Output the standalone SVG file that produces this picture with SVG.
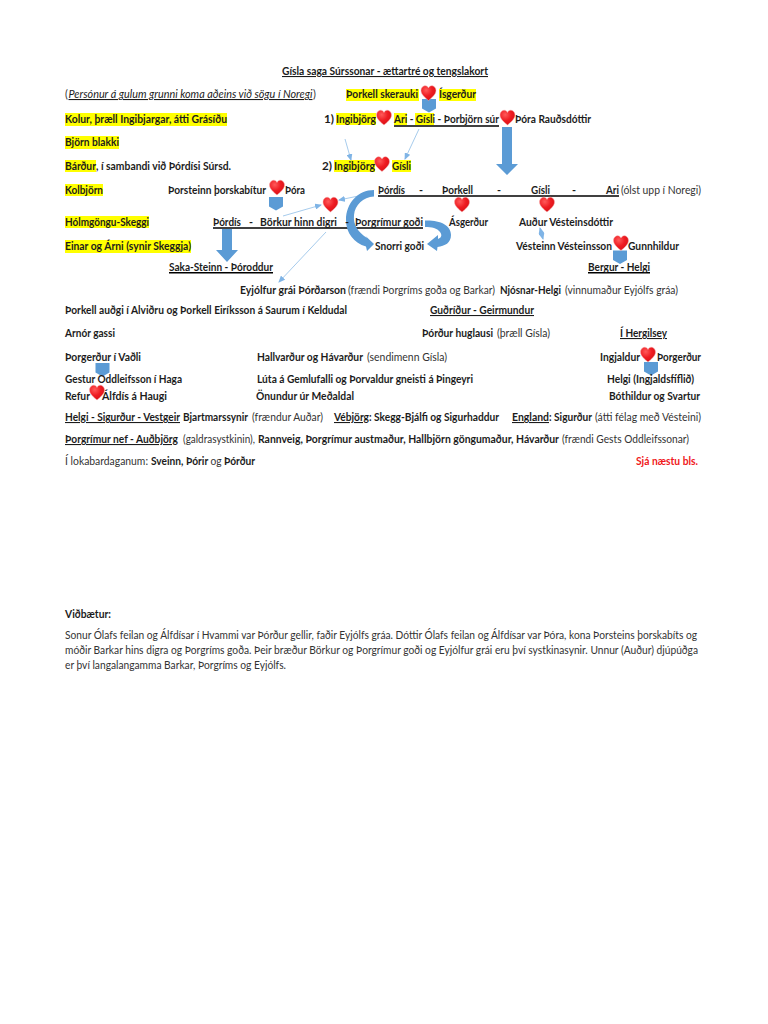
<svg xmlns="http://www.w3.org/2000/svg" xmlns:xlink="http://www.w3.org/1999/xlink" width="768" height="1024" viewBox="0 0 768 1024">
<style>
text{font-family:"Lato","Liberation Sans",sans-serif;font-size:10.8px;fill:#1c1c1c;white-space:pre}
.b{font-weight:700}
.r{font-weight:400;fill:#333}
.i{font-style:italic;font-weight:400;text-decoration:underline}
.u{text-decoration:underline}
.red{fill:#f01820;font-weight:700}
.y{fill:#ffff00}
.bar{stroke:#000;stroke-width:1.6;fill:none}
.thin{stroke:#9cc5ea;stroke-width:.9;fill:none;marker-end:url(#a)}
.blk{fill:#5b9bd5}
</style>
<defs>
<marker id="a" markerWidth="7" markerHeight="6" refX="6" refY="3" orient="auto" markerUnits="userSpaceOnUse"><path d="M0,0L7,3L0,6z" fill="#7fb4e6"/></marker>
<marker id="as" markerWidth="7" markerHeight="6" refX="1" refY="3" orient="auto" markerUnits="userSpaceOnUse"><path d="M7,0L0,3L7,6z" fill="#7fb4e6"/></marker>
<radialGradient id="hg" cx=".35" cy=".3" r=".8"><stop offset="0" stop-color="#ff5a5a"/><stop offset=".5" stop-color="#ee1c22"/><stop offset="1" stop-color="#d40f14"/></radialGradient>
<path id="h" d="M0,7.5C-3,5 -7.5,1.5 -7.5,-2.5C-7.5,-5.5 -5.2,-7.3 -3.2,-7.3C-1.6,-7.3 -.5,-6.3 0,-5C.5,-6.3 1.6,-7.3 3.2,-7.3C5.2,-7.3 7.5,-5.5 7.5,-2.5C7.5,1.5 3,5 0,7.5z" fill="url(#hg)" stroke="#f7b0b0" stroke-width=".5"/>
<path id="p" d="M-7,-6.5H7V3L0,7L-7,3z" class="blk"/>
</defs>
<rect width="768" height="1024" fill="#fff"/>

<g id="highlights">
<rect class="y" x="346" y="89" width="73" height="12"/><rect class="y" x="439" y="89" width="37" height="12"/>
<rect class="y" x="65" y="113" width="162" height="13"/>
<rect class="y" x="336" y="113" width="40" height="12"/><rect class="y" x="394" y="113" width="13" height="12"/><rect class="y" x="415" y="113" width="19" height="12"/>
<rect class="y" x="65" y="136" width="54" height="13"/>
<rect class="y" x="65" y="160" width="31" height="12"/>
<rect class="y" x="334" y="160" width="41" height="12"/><rect class="y" x="392" y="160" width="19" height="12"/>
<rect class="y" x="65" y="184" width="38" height="12"/>
<rect class="y" x="65" y="216" width="84" height="12"/>
<rect class="y" x="65" y="240" width="126" height="13"/>
</g>

<g id="connectors">
<line class="bar" x1="394" y1="126" x2="499" y2="126"/>
<line class="bar" x1="378" y1="196" x2="619" y2="196"/>
<line class="bar" x1="213" y1="228" x2="423" y2="228"/>
<line class="bar" x1="169" y1="272.700" x2="273" y2="272.700"/>
<line class="bar" x1="588" y1="272.700" x2="650" y2="272.700"/>
<line class="thin" x1="345" y1="139" x2="351" y2="160"/>
<line class="thin" x1="419" y1="129" x2="405" y2="159"/>
<line class="thin" x1="283" y1="216" x2="321" y2="205"/>
<line class="thin" x1="373" y1="193" x2="339" y2="200"/>
<line class="thin" x1="326" y1="232" x2="279" y2="282"/>
<line class="thin" x1="540" y1="228" x2="543" y2="239" marker-start="url(#as)"/>
<path class="blk" d="M502,127H512V164H518L507,175L496,164H502z"/>
<path class="blk" d="M222,229H232V250H238L227,262L216,250H222z"/>
<path class="blk" d="M374,190V196.500C363,197 355,205 354,215C353,225 358,232 367,238L365.500,236L374,244L367,251L366,246.500C354,243 346,233 346,220C346,203 358,190 374,190z"/>
<path class="blk" d="M425,220.500C440,220 451,225 451,235C451,243 445,246 437.500,247L437,251L427,244L438,235L438,239C442,237.500 442,234.500 440,232C437,228 432,227 425,227z"/>
<use xlink:href="#p" href="#p" x="429" y="105.500"/>
<use xlink:href="#p" href="#p" x="276" y="203.500"/>
<use xlink:href="#p" href="#p" x="620" y="257"/>
<use xlink:href="#p" href="#p" x="102.500" y="369.500"/>
<use xlink:href="#p" href="#p" x="651" y="368.500"/>
</g>

<g id="hearts">
<use href="#h" x="428.500" y="93"/><use href="#h" x="384" y="117.500"/><use href="#h" x="507.500" y="117.500"/>
<use href="#h" x="382" y="164"/><use href="#h" x="277" y="187.500"/><use href="#h" x="330.500" y="204.500"/>
<use href="#h" x="462" y="204.500"/><use href="#h" x="547" y="204.500"/><use href="#h" x="621" y="243"/>
<use href="#h" x="648" y="354.500"/><use href="#h" x="97" y="392.500"/>
</g>

<g id="title"><text class="b u" x="282" y="75" textLength="206" lengthAdjust="spacingAndGlyphs">Gísla saga Súrssonar - ættartré og tengslakort</text></g>
<g id="row-top">
<text class="r" x="65" y="98">(</text><text class="i" x="68.500" y="98" textLength="244" lengthAdjust="spacingAndGlyphs">Persónur á gulum grunni koma aðeins við sögu í Noregi</text><text class="r" x="313" y="98">)</text>
<text class="b" x="346" y="98" textLength="72" lengthAdjust="spacingAndGlyphs">Þorkell skerauki</text>
<text class="b" x="439" y="98" textLength="37" lengthAdjust="spacingAndGlyphs">Ísgerður</text>
</g>
<g id="row-1">
<text class="b" x="65" y="123" textLength="162" lengthAdjust="spacingAndGlyphs">Kolur, þræll Ingibjargar, átti Grásíðu</text>
<text class="b" x="324" y="123" textLength="10" lengthAdjust="spacingAndGlyphs">1)</text>
<text class="b" x="336" y="123" textLength="40" lengthAdjust="spacingAndGlyphs">Ingibjörg</text>
<text class="b" x="394" y="123" textLength="105" lengthAdjust="spacingAndGlyphs">Ari - Gísli - Þorbjörn súr</text>
<text class="b" x="515" y="123" textLength="76" lengthAdjust="spacingAndGlyphs">Þóra Rauðsdóttir</text>
</g>
<g id="row-2"><text class="b" x="65" y="146" textLength="54" lengthAdjust="spacingAndGlyphs">Björn blakki</text></g>
<g id="row-3">
<text class="b" x="65" y="169.500" textLength="31" lengthAdjust="spacingAndGlyphs">Bárður</text>
<text class="b" x="96" y="169.500" textLength="135" lengthAdjust="spacingAndGlyphs">, í sambandi við Þórdísi Súrsd.</text>
<text class="b" x="322" y="169.500" textLength="10" lengthAdjust="spacingAndGlyphs">2)</text>
<text class="b" x="334" y="169.500" textLength="41" lengthAdjust="spacingAndGlyphs">Ingibjörg</text>
<text class="b" x="392" y="169.500" textLength="19" lengthAdjust="spacingAndGlyphs">Gísli</text>
</g>
<g id="row-4">
<text class="b" x="65" y="193.500" textLength="38" lengthAdjust="spacingAndGlyphs">Kolbjörn</text>
<text class="b" x="168" y="193.500" textLength="98" lengthAdjust="spacingAndGlyphs">Þorsteinn þorskabítur</text>
<text class="b" x="285" y="193.500" textLength="20" lengthAdjust="spacingAndGlyphs">Þóra</text>
<text class="b" x="378" y="193.500" textLength="27" lengthAdjust="spacingAndGlyphs">Þórdís</text>
<text class="b" x="419" y="193.500">-</text>
<text class="b" x="442" y="193.500" textLength="31" lengthAdjust="spacingAndGlyphs">Þorkell</text>
<text class="b" x="497" y="193.500">-</text>
<text class="b" x="531" y="193.500" textLength="19" lengthAdjust="spacingAndGlyphs">Gísli</text>
<text class="b" x="572" y="193.500">-</text>
<text class="b" x="606" y="193.500" textLength="13" lengthAdjust="spacingAndGlyphs">Ari</text>
<text class="r" x="621" y="193.500" textLength="80" lengthAdjust="spacingAndGlyphs">(ólst upp í Noregi)</text>
</g>
<g id="row-5">
<text class="b" x="65" y="226" textLength="84" lengthAdjust="spacingAndGlyphs">Hólmgöngu-Skeggi</text>
<text class="b" x="213" y="226" textLength="28" lengthAdjust="spacingAndGlyphs">Þórdís</text>
<text class="b" x="249" y="226">-</text>
<text class="b" x="260" y="226" textLength="77" lengthAdjust="spacingAndGlyphs">Börkur hinn digri</text>
<text class="b" x="345" y="226">-</text>
<text class="b" x="355" y="226" textLength="68" lengthAdjust="spacingAndGlyphs">Þorgrímur goði</text>
<text class="b" x="449" y="226" textLength="39" lengthAdjust="spacingAndGlyphs">Ásgerður</text>
<text class="b" x="519" y="226" textLength="94" lengthAdjust="spacingAndGlyphs">Auður Vésteinsdóttir</text>
</g>
<g id="row-6">
<text class="b" x="65" y="250" textLength="126" lengthAdjust="spacingAndGlyphs">Einar og Árni (synir Skeggja)</text>
<text class="b" x="375" y="250" textLength="49" lengthAdjust="spacingAndGlyphs">Snorri goði</text>
<text class="b" x="516" y="250" textLength="96" lengthAdjust="spacingAndGlyphs">Vésteinn Vésteinsson</text>
<text class="b" x="628" y="250" textLength="51" lengthAdjust="spacingAndGlyphs">Gunnhildur</text>
</g>
<g id="row-7">
<text class="b" x="169" y="271" textLength="104" lengthAdjust="spacingAndGlyphs">Saka-Steinn - Þóroddur</text>
<text class="b" x="588" y="271" textLength="62" lengthAdjust="spacingAndGlyphs">Bergur - Helgi</text>
</g>
<g id="row-8">
<text class="b" x="240" y="293.500" textLength="106" lengthAdjust="spacingAndGlyphs">Eyjólfur grái Þórðarson</text>
<text class="r" x="348" y="293.500" textLength="147" lengthAdjust="spacingAndGlyphs">(frændi Þorgríms goða og Barkar)</text>
<text class="b" x="500" y="293.500" textLength="61" lengthAdjust="spacingAndGlyphs">Njósnar-Helgi</text>
<text class="r" x="565" y="293.500" textLength="113" lengthAdjust="spacingAndGlyphs">(vinnumaður Eyjólfs gráa)</text>
</g>
<g id="row-9">
<text class="b" x="65" y="314" textLength="282" lengthAdjust="spacingAndGlyphs">Þorkell auðgi í Alviðru og Þorkell Eiríksson á Saurum í Keldudal</text>
<text class="b u" x="430" y="314" textLength="104" lengthAdjust="spacingAndGlyphs">Guðríður - Geirmundur</text>
</g>
<g id="row-10">
<text class="b" x="65" y="337" textLength="50" lengthAdjust="spacingAndGlyphs">Arnór gassi</text>
<text class="b" x="422" y="337" textLength="71" lengthAdjust="spacingAndGlyphs">Þórður huglausi</text>
<text class="r" x="497" y="337" textLength="53" lengthAdjust="spacingAndGlyphs">(þræll Gísla)</text>
<text class="b u" x="620" y="337" textLength="47" lengthAdjust="spacingAndGlyphs">Í Hergilsey</text>
</g>
<g id="row-11">
<text class="b" x="65" y="361" textLength="76" lengthAdjust="spacingAndGlyphs">Þorgerður í Vaðli</text>
<text class="b" x="257" y="361" textLength="106" lengthAdjust="spacingAndGlyphs">Hallvarður og Hávarður</text>
<text class="r" x="367" y="361" textLength="80" lengthAdjust="spacingAndGlyphs">(sendimenn Gísla)</text>
<text class="b" x="600" y="361" textLength="40" lengthAdjust="spacingAndGlyphs">Ingjaldur</text>
<text class="b" x="657" y="361" textLength="44" lengthAdjust="spacingAndGlyphs">Þorgerður</text>
</g>
<g id="row-12">
<text class="b" x="65" y="382.500" textLength="117" lengthAdjust="spacingAndGlyphs">Gestur Oddleifsson í Haga</text>
<text class="b" x="257" y="382.500" textLength="216" lengthAdjust="spacingAndGlyphs">Lúta á Gemlufalli og Þorvaldur gneisti á Þingeyri</text>
<text class="b" x="607" y="382.500" textLength="87" lengthAdjust="spacingAndGlyphs">Helgi (Ingjaldsfíflið)</text>
</g>
<g id="row-13">
<text class="b" x="65" y="399.500" textLength="25" lengthAdjust="spacingAndGlyphs">Refur</text>
<text class="b" x="102" y="399.500" textLength="65" lengthAdjust="spacingAndGlyphs">Álfdís á Haugi</text>
<text class="b" x="256" y="399.500" textLength="98" lengthAdjust="spacingAndGlyphs">Önundur úr Meðaldal</text>
<text class="b" x="609" y="399.500" textLength="91" lengthAdjust="spacingAndGlyphs">Bóthildur og Svartur</text>
</g>
<g id="row-14">
<text class="b u" x="65" y="421" textLength="115" lengthAdjust="spacingAndGlyphs">Helgi - Sigurður - Vestgeir</text>
<text class="b" x="183" y="421" textLength="65" lengthAdjust="spacingAndGlyphs">Bjartmarssynir</text>
<text class="r" x="252" y="421" textLength="71" lengthAdjust="spacingAndGlyphs">(frændur Auðar)</text>
<text class="b u" x="334" y="421" textLength="35" lengthAdjust="spacingAndGlyphs">Vébjörg</text>
<text class="b" x="369" y="421" textLength="130" lengthAdjust="spacingAndGlyphs">: Skegg-Bjálfi og Sigurhaddur</text>
<text class="b u" x="512" y="421" textLength="37" lengthAdjust="spacingAndGlyphs">England</text>
<text class="b" x="549" y="421" textLength="43" lengthAdjust="spacingAndGlyphs">: Sigurður</text>
<text class="r" x="595" y="421" textLength="106" lengthAdjust="spacingAndGlyphs">(átti félag með Vésteini)</text>
</g>
<g id="row-15">
<text class="b u" x="65" y="443" textLength="113" lengthAdjust="spacingAndGlyphs">Þorgrímur nef - Auðbjörg</text>
<text class="r" x="183" y="443" textLength="72" lengthAdjust="spacingAndGlyphs">(galdrasystkinin),</text>
<text class="b" x="258" y="443" textLength="301" lengthAdjust="spacingAndGlyphs">Rannveig, Þorgrímur austmaður, Hallbjörn göngumaður, Hávarður</text>
<text class="r" x="562" y="443" textLength="127" lengthAdjust="spacingAndGlyphs">(frændi Gests Oddleifssonar)</text>
</g>
<g id="row-16">
<text class="r" x="65" y="465" textLength="83" lengthAdjust="spacingAndGlyphs">Í lokabardaganum:</text>
<text class="b" x="151" y="465" textLength="104" lengthAdjust="spacingAndGlyphs">Sveinn, Þórir <tspan style="font-weight:400;fill:#333">og</tspan> Þórður</text>
<text class="red" x="636" y="465" textLength="62" lengthAdjust="spacingAndGlyphs">Sjá næstu bls.</text>
</g>
<g id="addendum">
<text class="b" x="65" y="617.500" textLength="46" lengthAdjust="spacingAndGlyphs">Viðbætur:</text>
<text class="r" x="65" y="638.500" textLength="632" lengthAdjust="spacingAndGlyphs">Sonur Ólafs feilan og Álfdísar í Hvammi var Þórður gellir, faðir Eyjólfs gráa. Dóttir Ólafs feilan og Álfdísar var Þóra, kona Þorsteins þorskabíts og</text>
<text class="r" x="65" y="653.500" textLength="633" lengthAdjust="spacingAndGlyphs">móðir Barkar hins digra og Þorgríms goða. Þeir bræður Börkur og Þorgrímur goði og Eyjólfur grái eru því systkinasynir. Unnur (Auður) djúpúðga</text>
<text class="r" x="65" y="668.500" textLength="221" lengthAdjust="spacingAndGlyphs">er því langalangamma Barkar, Þorgríms og Eyjólfs.</text>
</g>
</svg>
